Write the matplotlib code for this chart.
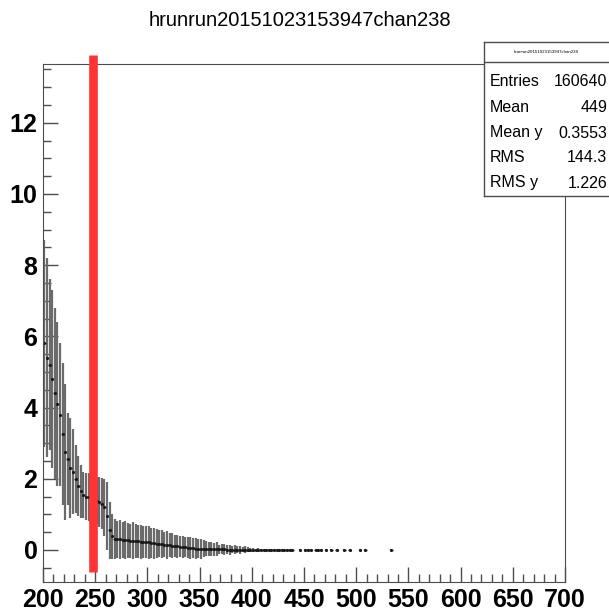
import numpy as np
import matplotlib
matplotlib.use("Agg")
import matplotlib.pyplot as plt
from matplotlib.ticker import MultipleLocator

title = "hrunrun20151023153947chan238"

# profile bins, 2.5 wide from 200 to 440
bin_width = 2.5
dense_means = [5.8, 5.4, 5.2, 4.8, 4.4, 4.1, 3.8, 3.25, 2.75, 2.55,
               2.3, 2.2, 2.0, 1.8, 1.65, 1.55, 1.5, 1.48, 1.45, 1.42,
               1.38, 1.35, 1.3, 1.2, 0.95, 0.55, 0.38, 0.32, 0.3, 0.3,
               0.28, 0.28, 0.27, 0.26, 0.26, 0.25, 0.24, 0.23, 0.22, 0.22,
               0.21, 0.2, 0.19, 0.18, 0.17, 0.16, 0.15, 0.14, 0.13, 0.12,
               0.11, 0.1, 0.09, 0.08, 0.07, 0.06, 0.05, 0.05, 0.04, 0.04,
               0.03, 0.03, 0.03, 0.02, 0.02, 0.02, 0.02, 0.02, 0.02, 0.02,
               0.01, 0.01, 0.01, 0.01, 0.01, 0.01, 0.01, 0.01, 0.01, 0.0,
               0.0, 0.0, 0.0, 0.0, 0.0, 0.0, 0.0, 0.0, 0.0, 0.0,
               0.0, 0.0, 0.0, 0.0, 0.0, 0.0]
dense_errs = [2.9, 2.8, 2.4, 2.5, 2.4, 2.3, 2.0, 2.0, 1.9, 1.3,
              1.4, 1.2, 0.95, 0.85, 0.75, 0.65, 0.65, 0.68, 0.7, 0.68,
              0.66, 0.7, 0.72, 0.8, 0.95, 0.8, 0.62, 0.56, 0.52, 0.55,
              0.5, 0.54, 0.5, 0.48, 0.52, 0.47, 0.46, 0.48, 0.44, 0.45,
              0.46, 0.42, 0.44, 0.4, 0.38, 0.39, 0.36, 0.38, 0.34, 0.35,
              0.32, 0.33, 0.3, 0.31, 0.28, 0.29, 0.3, 0.28, 0.3, 0.26,
              0.27, 0.24, 0.21, 0.2, 0.2, 0.18, 0.19, 0.12, 0.14, 0.15,
              0.12, 0.14, 0.1, 0.13, 0.09, 0.11, 0.08, 0.1, 0.07, 0.06,
              0.05, 0.04, 0.05, 0.03, 0.04, 0.03, 0.04, 0.03, 0.03, 0.02,
              0.03, 0.02, 0.03, 0.02, 0.02, 0.02]
dense_x = 200 + bin_width * (np.arange(len(dense_means)) + 0.5)

# isolated filled bins further out
sparse_x = [446.25, 451.25, 453.75, 456.25, 461.25, 463.75, 466.25, 471.25,
            476.25, 481.25, 488.75, 493.75, 503.75, 508.75, 533.75]
sparse_means = [0.0] * len(sparse_x)
sparse_errs = [0.02] * len(sparse_x)

cut_x = 248

stats_labels = ["Entries", "Mean", "Mean y", "RMS", "RMS y"]
stats_values = ["160640", "449", "0.3553", "144.3", "1.226"]

plt.rcParams['font.family'] = ['Liberation Sans', 'DejaVu Sans']

fig = plt.figure(figsize=(6.09, 6.11), dpi=100)
ax = fig.add_axes([43/609, 1 - 582/611, (565 - 43)/609, (582 - 64)/611])

x_all = np.concatenate([dense_x, sparse_x])
m_all = np.concatenate([dense_means, sparse_means])
e_all = np.concatenate([dense_errs, sparse_errs])
ax.errorbar(x_all, m_all, yerr=e_all, fmt='none', ecolor='0.42',
            elinewidth=1.6, capsize=0)
ax.errorbar(x_all, m_all, xerr=bin_width/2, fmt='.', color='0.1',
            ms=2.5, elinewidth=1.0, capsize=0)

ax.plot([cut_x, cut_x], [-0.62, 13.9], color='#ff3333', lw=6.2,
        solid_capstyle='butt', clip_on=False, zorder=5)

ax.set_xlim(200, 700)
ax.set_ylim(-0.9, 13.65)
ax.xaxis.set_major_locator(MultipleLocator(50))
ax.xaxis.set_minor_locator(MultipleLocator(10))
ax.yaxis.set_major_locator(MultipleLocator(2))
ax.yaxis.set_minor_locator(MultipleLocator(0.5))
ax.tick_params(which='major', direction='in', length=11, width=1, color='0.3')
ax.tick_params(which='minor', direction='in', length=5.5, width=1, color='0.3')
ax.tick_params(axis='both', labelsize=18, pad=4)
for lab in ax.get_xticklabels() + ax.get_yticklabels():
    lab.set_fontweight('bold')
for s in ax.spines.values():
    s.set_color('0.3')

fig.text(300/609, 1 - 20/611, title, ha='center', va='center', fontsize=14.5)

# stats box
bx = fig.add_axes([484/609, 1 - 196/611, 130/609, (196 - 42)/611])
bx.set_xlim(0, 1)
bx.set_ylim(0, 1)
bx.set_xticks([])
bx.set_yticks([])
for s in bx.spines.values():
    s.set_color('0.3')
    s.set_linewidth(1)
h = 196 - 42
bx.axhline(1 - 20/h, color='0.3', lw=1)
bx.text(0.5*125/130, 1 - 10/h, title, ha='center', va='center', fontsize=3.2)
rows_y = [82, 107, 133, 158, 183]
for lab, val, yy in zip(stats_labels, stats_values, rows_y):
    bx.text(6/130, 1 - (yy - 42)/h, lab, ha='left', va='center', fontsize=11.5)
    bx.text(123/130, 1 - (yy - 42)/h, val, ha='right', va='center', fontsize=11.5)

fig.savefig("out.png", dpi=100)
